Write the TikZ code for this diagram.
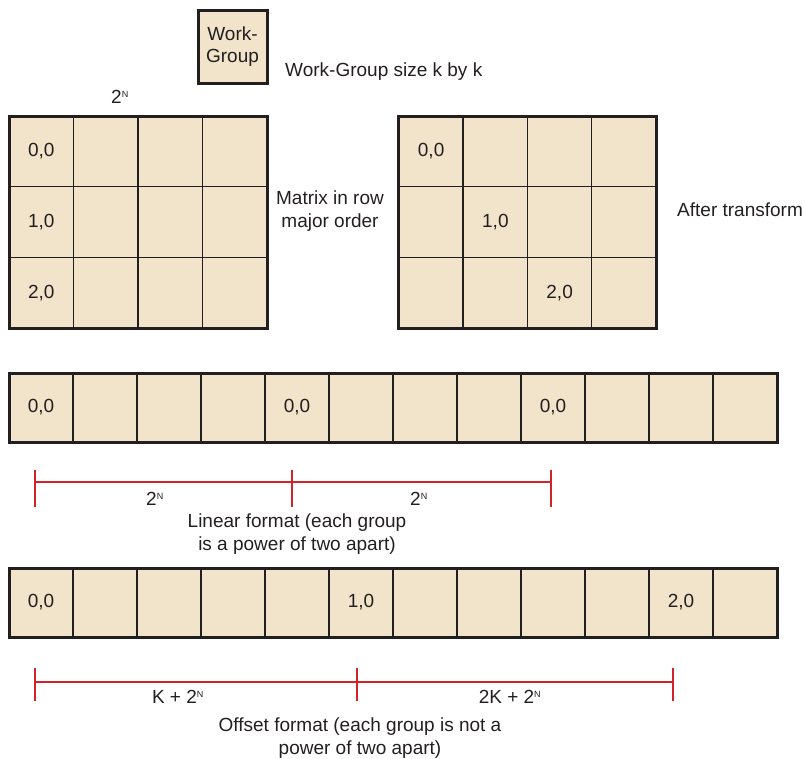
\documentclass[tikz,border=0pt]{standalone}
\usepackage{fontspec}
\setmainfont{Liberation Sans}
\usetikzlibrary{positioning}
\definecolor{wgfill}{HTML}{F2E4CA}
\definecolor{wgline}{HTML}{231F20}
\definecolor{wgred}{HTML}{D2232A}
\newcommand{\pwr}[1]{#1\textsuperscript{\fontsize{9pt}{9pt}\selectfont N}}

\begin{document}
\begin{tikzpicture}[x=1pt, y=-1pt,
  cell/.style={draw=wgline, line width=1.4pt, fill=wgfill, minimum width=64.5pt, minimum height=70.7pt, inner sep=0pt, outer sep=0pt},
  stripcell/.style={cell, minimum width=64pt, minimum height=69pt},
  frame/.style={draw=wgline, line width=3pt},
  lbl/.style={font=\fontsize{19pt}{22.5pt}\selectfont, text=wgline, inner sep=0pt},
  dim/.style={draw=wgred, line width=1.5pt}
]
\useasboundingbox (0,0) rectangle (805,758);

% legend
\node[cell, frame, lbl, minimum width=69pt, minimum height=73pt, align=center] (wg) at (232.5,46.5) {Work-\\Group};
\node[lbl, anchor=west] (wgsize) at (285,72) {Work-Group size k by k};

% the two matrices
\foreach \r in {1,2,3}
  \foreach \c in {1,...,4} {
    \node[cell] (a\r\c) at ({9+64.5*(\c-0.5)}, {116+70.7*(\r-0.5)}) {};
    \node[cell] (b\r\c) at ({399+64.25*(\c-0.5)}, {116+70.7*(\r-0.5)}) {};
  }
\draw[frame] (a11.north west) rectangle (a34.south east);
\draw[frame] (b11.north west) rectangle (b34.south east);
\node[lbl] (a11t) at (a11) {0,0};
\node[lbl] (a21t) at (a21) {1,0};
\node[lbl] (a31t) at (a31) {2,0};
\node[lbl] (b11t) at (b11) {0,0};
\node[lbl] (b22t) at (b22) {1,0};
\node[lbl] (b33t) at (b33) {2,0};
\node[lbl] (width) at (120,97) {\pwr{2}};
\node[lbl, align=center] (rowmaj) at (330,211) {Matrix in row\\major order};
\node[lbl, anchor=west] (after) at (677,210) {After transform};

% linear and offset strips
\foreach \c in {1,...,12} {
  \node[stripcell] (s\c) at ({9+64*(\c-0.5)}, 407.5) {};
  \node[stripcell] (t\c) at ({9+64*(\c-0.5)}, 602.5) {};
}
\draw[frame] (s1.north west) rectangle (s12.south east);
\draw[frame] (t1.north west) rectangle (t12.south east);
\node[lbl] (s1t) at (s1) {0,0};
\node[lbl] (s5t) at (s5) {0,0};
\node[lbl] (s9t) at (s9) {0,0};
\node[lbl] (t1t) at (t1) {0,0};
\node[lbl] (t6t) at (t6) {1,0};
\node[lbl] (t11t) at (t11) {2,0};

% spacing marks
\coordinate (p0) at (35,482);
\coordinate (p1) at (292,482);
\coordinate (p2) at (551,482);
\draw[dim] (p0) -- (p2);
\draw[dim] ([yshift=12pt]p0) -- ([yshift=-25pt]p0);
\draw[dim] ([yshift=12pt]p1) -- ([yshift=-25pt]p1);
\draw[dim] ([yshift=12pt]p2) -- ([yshift=-25pt]p2);
\node[lbl] (lin1) at (155,499) {\pwr{2}};
\node[lbl] (lin2) at (419,499) {\pwr{2}};
\node[lbl, align=center] (lintext) at (297,534) {Linear format (each group\\is a power of two apart)};

\coordinate (q0) at (35,682);
\coordinate (q1) at (357,682);
\coordinate (q2) at (673,682);
\draw[dim] (q0) -- (q2);
\draw[dim] ([yshift=14pt]q0) -- ([yshift=-19pt]q0);
\draw[dim] ([yshift=14pt]q1) -- ([yshift=-19pt]q1);
\draw[dim] ([yshift=14pt]q2) -- ([yshift=-19pt]q2);
\node[lbl] (off1) at (178,697) {K + \pwr{2}};
\node[lbl] (off2) at (510,697) {\pwr{2K + 2}};
\node[lbl, align=center] (offtext) at (360,738) {Offset format (each group is not a\\power of two apart)};
\end{tikzpicture}
\end{document}
